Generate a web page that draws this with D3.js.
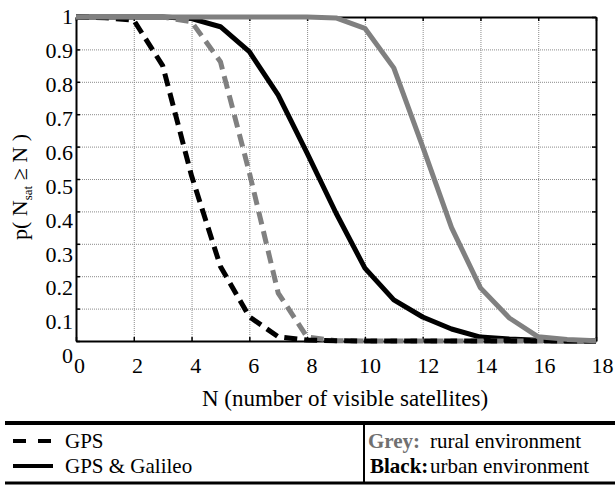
<!DOCTYPE html>
<html>
<head>
<meta charset="utf-8">
<script src="https://cdn.jsdelivr.net/npm/d3@7"></script>
<style>
  html, body { margin: 0; padding: 0; background: #fff; }
  svg { display: block; }
  svg text { font-family: "Liberation Serif", "Times New Roman", Tinos, "DejaVu Serif", serif !important; }
</style>
</head>
<body>
<svg id="chart" width="615" height="485"></svg>
<script>
// ---- data ----
const satellites = [0,1,2,3,4,5,6,7,8,9,10,11,12,13,14,15,16,17,18];
const gpsUrban     = [1,0.998,0.99,0.85,0.51,0.23,0.075,0.013,0.003,0.001,0,0,0,0,0,0,0,0,0];
const gpsRural     = [1,1,1,1,0.985,0.862,0.52,0.148,0.012,0.001,0,0,0,0,0,0,0,0,0];
const galileoUrban = [1,1,1,1,0.995,0.97,0.893,0.759,0.58,0.395,0.225,0.127,0.074,0.037,0.012,0.006,0.002,0,0];
const galileoRural = [1,1,1,1,1,1,1,1,1,0.997,0.965,0.843,0.6,0.35,0.164,0.071,0.013,0.005,0.001];
const xTicks = [0,2,4,6,8,10,12,14,16,18];
const yTicks = [0,0.1,0.2,0.3,0.4,0.5,0.6,0.7,0.8,0.9,1];
const yTickLabels = ["0","0.1","0.2","0.3","0.4","0.5","0.6","0.7","0.8","0.9","1"];
const xTitle = "N (number of visible satellites)";
const legendLeft = ["GPS", "GPS & Galileo"];
const legendRight = [["Grey:", "rural environment"], ["Black:", "urban environment"]];

const svg = d3.select("#chart");
const L = 76, R = 596, T = 17, B = 341;
const x = d3.scaleLinear().domain([0,18]).range([L,R]);
const y = d3.scaleLinear().domain([0,1]).range([B,T]);
// label placement scales (labels in the source are slightly offset from the grid)
const xl = d3.scaleLinear().domain([0,18]).range([79,602]);
const yl = d3.scaleLinear().domain([0,1]).range([355,16]);

const GREY = "#808080";

// grid
svg.append("g").attr("transform",`translate(0,${B})`)
  .call(d3.axisBottom(x).tickValues(xTicks.slice(1,-1)).tickSize(-(B-T)).tickFormat(""))
  .call(g => g.select(".domain").remove())
  .call(g => g.selectAll("line").attr("stroke","#8a8a8a").attr("stroke-dasharray","1,1"));
svg.append("g").attr("transform",`translate(${L},0)`)
  .call(d3.axisLeft(y).tickValues(yTicks.slice(1,-1)).tickSize(-(R-L)).tickFormat(""))
  .call(g => g.select(".domain").remove())
  .call(g => g.selectAll("line").attr("stroke","#8a8a8a").attr("stroke-dasharray","1,1"));

// axes frame with inward ticks
function styleAxis(g){
  g.select(".domain").attr("stroke","#000").attr("stroke-width",2);
  g.selectAll(".tick line").attr("stroke","#000").attr("stroke-width",1.5);
}
svg.append("g").attr("transform",`translate(0,${B})`)
  .call(d3.axisBottom(x).tickValues(xTicks).tickSizeInner(-4).tickSizeOuter(0).tickFormat("")).call(styleAxis);
svg.append("g").attr("transform",`translate(0,${T})`)
  .call(d3.axisTop(x).tickValues(xTicks).tickSizeInner(-4).tickSizeOuter(0).tickFormat("")).call(styleAxis);
svg.append("g").attr("transform",`translate(${L},0)`)
  .call(d3.axisLeft(y).tickValues(yTicks).tickSizeInner(-4).tickSizeOuter(0).tickFormat("")).call(styleAxis);
svg.append("g").attr("transform",`translate(${R},0)`)
  .call(d3.axisRight(y).tickValues(yTicks).tickSizeInner(-4).tickSizeOuter(0).tickFormat("")).call(styleAxis);

// tick labels
svg.append("g").attr("transform",`translate(0,${B})`)
  .call(d3.axisBottom(xl).tickValues(xTicks).tickSize(0).tickPadding(0).tickFormat(d => String(d)))
  .call(g => g.select(".domain").remove())
  .call(g => g.selectAll("text").attr("y",32).attr("dy",0)
      .attr("font-size",22).attr("fill","#000"));
svg.append("g").attr("transform",`translate(73,0)`)
  .call(d3.axisLeft(yl).tickValues(yTicks).tickSize(0).tickPadding(0).tickFormat((d,i) => yTickLabels[i]))
  .call(g => g.select(".domain").remove())
  .call(g => g.selectAll("text").attr("x",0).attr("dy","0.35em")
      .attr("font-size",22).attr("fill","#000"));

// axis titles
svg.append("text").attr("x",345).attr("y",406).attr("text-anchor","middle")
  .attr("font-size",23).text(xTitle);
const yt = svg.append("text").attr("transform","translate(27,187) rotate(-90)")
  .attr("text-anchor","middle").attr("font-size",22);
yt.append("tspan").text("p( N");
yt.append("tspan").attr("font-size",13).attr("dy",5).text("sat");
yt.append("tspan").attr("dy",-5).text(" \u2265 N )");

// lines
const line = d3.line().x((d,i) => x(satellites[i])).y(d => y(d));
const series = [
  {v: galileoUrban, c: "#000", dash: null},
  {v: gpsRural, c: GREY, dash: "13,7"},
  {v: gpsUrban, c: "#000", dash: "13,7"},
  {v: galileoRural, c: GREY, dash: null}
];
svg.append("g").selectAll("path").data(series).join("path")
  .attr("d", d => line(d.v))
  .attr("fill","none").attr("stroke", d => d.c).attr("stroke-width",5)
  .attr("stroke-linejoin","round")
  .attr("stroke-dasharray", d => d.dash);

// legend table
const lg = svg.append("g");
lg.append("line").attr("x1",5).attr("x2",615).attr("y1",423).attr("y2",423).attr("stroke","#000").attr("stroke-width",4);
lg.append("line").attr("x1",5).attr("x2",615).attr("y1",483).attr("y2",483).attr("stroke","#000").attr("stroke-width",3);
lg.append("line").attr("x1",364).attr("x2",364).attr("y1",423).attr("y2",483).attr("stroke","#000").attr("stroke-width",2);
const rowY = [441, 466];
lg.append("line").attr("x1",13).attr("x2",53).attr("y1",rowY[0]).attr("y2",rowY[0])
  .attr("stroke","#000").attr("stroke-width",4).attr("stroke-dasharray","13,12");
lg.append("line").attr("x1",13).attr("x2",53).attr("y1",rowY[1]).attr("y2",rowY[1])
  .attr("stroke","#000").attr("stroke-width",4);
legendLeft.forEach((t,i) => {
  lg.append("text").attr("x",65).attr("y",rowY[i]).attr("dy","0.35em").attr("font-size",21).text(t);
});
legendRight.forEach((t,i) => {
  lg.append("text").attr("x", i===0 ? 368 : 370).attr("y",rowY[i]).attr("dy","0.35em")
    .attr("font-size",21).attr("font-weight","bold").attr("fill", i===0 ? "#707070" : "#000").text(t[0]);
  lg.append("text").attr("x",430).attr("y",rowY[i]).attr("dy","0.35em")
    .attr("font-size",21).text(t[1]);
});
</script>
</body>
</html>
